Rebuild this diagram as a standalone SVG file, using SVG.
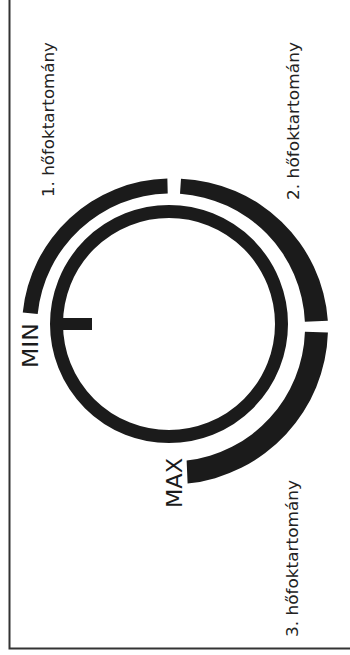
<svg xmlns="http://www.w3.org/2000/svg" width="350" height="655" viewBox="0 0 350 655">
  <style>
    .ink { fill: #1b1b1b; }
    .lbl { font-family: "DejaVu Sans", "Liberation Sans", sans-serif; font-size: 16.5px; fill: #222222; }
    .big { font-family: "DejaVu Sans", "Liberation Sans", sans-serif; font-size: 21.5px; fill: #1b1b1b; }
  </style>
  <rect x="0" y="0" width="350" height="655" fill="#ffffff"/>
  <g id="frame">
    <path d="M9.5 0 V648.5 H350" fill="none" stroke="#333333" stroke-width="2"/>
  </g>
  <g id="dial">
    <circle cx="169" cy="324" r="112.5" fill="none" stroke="#1b1b1b" stroke-width="13"/>
    <rect class="ink" x="62" y="318" width="30" height="12"/>
  </g>
  <g id="range1">
    <path class="ink" d="M37.69 313.96 A134 134 0 0 1 167.73 193.54 L167.36 178.54 A149 149 0 0 0 22.76 312.44 Z"/>
    <text class="lbl" transform="translate(54,197) rotate(-90)" textLength="155" lengthAdjust="spacingAndGlyphs">1. hőfoktartomány</text>
  </g>
  <g id="range2">
    <path class="ink" d="M179.99 193.80 A134 134 0 0 1 304.87 321.66 L327.85 320.65 A152.9 152.9 0 0 0 181.0 178.84 Z"/>
    <text class="lbl" transform="translate(298.5,200) rotate(-90)" textLength="158" lengthAdjust="spacingAndGlyphs">2. hőfoktartomány</text>
  </g>
  <g id="range3">
    <path class="ink" d="M304.93 331.71 A134 134 0 0 1 186.63 460.58 L187.6 483.6 A157 157 0 0 0 327.92 332.43 Z"/>
    <text class="lbl" transform="translate(298,637) rotate(-90)" textLength="157" lengthAdjust="spacingAndGlyphs">3. hőfoktartomány</text>
  </g>
  <g id="min-label">
    <text class="big" transform="translate(38.3,368) rotate(-90)" textLength="45" lengthAdjust="spacingAndGlyphs">MIN</text>
  </g>
  <g id="max-label">
    <text class="big" transform="translate(181.7,508) rotate(-90)" textLength="50" lengthAdjust="spacingAndGlyphs">MAX</text>
  </g>
  <g id="connectors"/>
</svg>
